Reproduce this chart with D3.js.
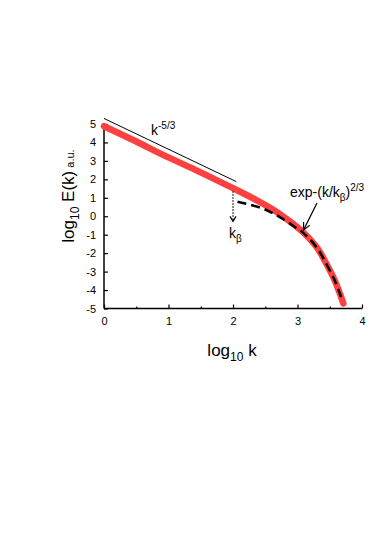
<!DOCTYPE html>
<html>
<head>
<meta charset="utf-8">
<script src="https://cdn.jsdelivr.net/npm/d3@7"></script>
<style>
  body { margin: 0; background: #fff; }
  text { font-family: "Liberation Sans", Arial, sans-serif; fill: #000; }
</style>
</head>
<body>
<div id="chart"></div>
<script>
// tick values
var xTicks = [0, 1, 2, 3, 4];
var xMinor = [0.5, 1.5, 2.5, 3.5];
var yTicks = [-5, -4, -3, -2, -1, 0, 1, 2, 3, 4, 5];

// red spectrum: [log10 k, log10 E]
var spectrum = [[0, 4.88], [0.5, 4.05], [0.9, 3.35], [1.4, 2.54], [2.0, 1.52],
  [2.34, 0.92], [2.6, 0.4], [2.85, -0.2], [3.09, -0.88], [3.3, -1.69],
  [3.45, -2.59], [3.58, -3.5], [3.66, -4.22], [3.71, -4.72]];

// dashed exp fit
var expFit = [[2.07, 0.79], [2.42, 0.47], [2.6, 0.2], [2.78, -0.16], [2.96, -0.58],
  [3.09, -0.9], [3.3, -1.7], [3.45, -2.6], [3.58, -3.5], [3.66, -4.22], [3.7, -4.62]];

// k^-5/3 reference line
var powerLaw = [[0, 5.3], [2.05, 1.88]];

// dotted k_beta marker
var kBeta = [[2.0, 1.35], [2.0, -0.28]];

var width = 374, height = 536;

var svg = d3.select("#chart").append("svg")
  .attr("width", width)
  .attr("height", height);

var x = d3.scaleLinear().domain([0, 4]).range([104, 362]);
var y = d3.scaleLinear().domain([-5, 5]).range([308.5, 124]);

var line = d3.line()
  .x(function(d) { return x(d[0]); })
  .y(function(d) { return y(d[1]); });

var smooth = d3.line()
  .x(function(d) { return x(d[0]); })
  .y(function(d) { return y(d[1]); })
  .curve(d3.curveCatmullRom);

var plain = function(d) { return String(d); }; // hyphen minus like the original

// axes with inward ticks
var xAxis = svg.append("g")
  .attr("transform", "translate(0," + y(-5) + ")")
  .call(d3.axisBottom(x).tickValues(xTicks).tickSize(-4).tickPadding(9).tickFormat(plain));

svg.append("g")
  .attr("transform", "translate(0," + y(-5) + ")")
  .call(d3.axisBottom(x).tickValues(xMinor).tickSize(-2).tickFormat(""))
  .select(".domain").remove();

var yAxis = svg.append("g")
  .attr("transform", "translate(" + x(0) + ",0)")
  .call(d3.axisLeft(y).tickValues(yTicks).tickSize(-4).tickPadding(8).tickFormat(plain));

svg.selectAll(".domain").attr("stroke-width", 1.5);
xAxis.select(".domain").attr("d", "M" + x(0) + ",0H" + x(4));
yAxis.select(".domain").attr("d", "M0," + y(-5) + "V" + y(5));
svg.selectAll(".tick line").attr("stroke-width", 1.2);
svg.selectAll(".tick text").attr("font-size", 11).attr("font-family", "Liberation Sans, Arial, sans-serif");

// curves
svg.append("path")
  .attr("d", line(powerLaw))
  .attr("fill", "none")
  .attr("stroke", "#000")
  .attr("stroke-width", 1);

svg.append("path")
  .attr("d", smooth(spectrum))
  .attr("fill", "none")
  .attr("stroke", "#ff4040")
  .attr("stroke-width", 6.5)
  .attr("stroke-linecap", "round")
  .attr("stroke-linejoin", "round");

svg.append("path")
  .attr("d", smooth(expFit))
  .attr("fill", "none")
  .attr("stroke", "#000")
  .attr("stroke-width", 2.5)
  .attr("stroke-dasharray", "9,5");

// dotted k_beta arrow
svg.append("path")
  .attr("d", line(kBeta))
  .attr("fill", "none")
  .attr("stroke", "#000")
  .attr("stroke-width", 1.2)
  .attr("stroke-dasharray", "1.5,1.5");

var tipX = x(kBeta[1][0]), tipY = y(kBeta[1][1]);
svg.append("path")
  .attr("d", "M" + (tipX - 3) + "," + (tipY - 5) + "L" + tipX + "," + tipY + "L" + (tipX + 3) + "," + (tipY - 5))
  .attr("fill", "none")
  .attr("stroke", "#000")
  .attr("stroke-width", 1.2);

// arrow to exp fit
var a0 = [317, 203], a1 = [303.5, 230];
svg.append("line")
  .attr("x1", a0[0]).attr("y1", a0[1]).attr("x2", a1[0]).attr("y2", a1[1])
  .attr("stroke", "#000").attr("stroke-width", 1.2);
var ang = Math.atan2(a1[1] - a0[1], a1[0] - a0[0]);
var head = [ang + Math.PI - 0.45, ang + Math.PI + 0.45].map(function(t) {
  return [a1[0] + 8 * Math.cos(t), a1[1] + 8 * Math.sin(t)];
});
svg.append("path")
  .attr("d", "M" + head[0] + "L" + a1 + "L" + head[1])
  .attr("fill", "none")
  .attr("stroke", "#000")
  .attr("stroke-width", 1.2);

// labels
var t1 = svg.append("text").attr("x", 151).attr("y", 135).attr("font-size", 14);
t1.append("tspan").text("k");
t1.append("tspan").attr("dy", -6).attr("font-size", 10).text("-5/3");

var t2 = svg.append("text").attr("x", 290).attr("y", 197).attr("font-size", 14);
t2.append("tspan").text("exp-(k/k");
t2.append("tspan").attr("dy", 4).attr("font-size", 10).text("β");
t2.append("tspan").attr("dy", -4).text(")");
t2.append("tspan").attr("dy", -6).attr("font-size", 10).text("2/3");

var t3 = svg.append("text").attr("x", 229).attr("y", 238).attr("font-size", 14);
t3.append("tspan").text("k");
t3.append("tspan").attr("dy", 4).attr("font-size", 10).text("β");

var xl = svg.append("text").attr("x", 232).attr("y", 356).attr("font-size", 17).attr("text-anchor", "middle");
xl.append("tspan").text("log");
xl.append("tspan").attr("dy", 5).attr("font-size", 12).text("10");
xl.append("tspan").attr("dy", -5).text(" k");

var yl = svg.append("text")
  .attr("transform", "translate(74,196) rotate(-90)")
  .attr("font-size", 17)
  .attr("text-anchor", "middle");
yl.append("tspan").text("log");
yl.append("tspan").attr("dy", 5).attr("font-size", 12).text("10");
yl.append("tspan").attr("dy", -5).text(" E(k)");
yl.append("tspan").attr("font-size", 11).text("  a.u.");
</script>
</body>
</html>
